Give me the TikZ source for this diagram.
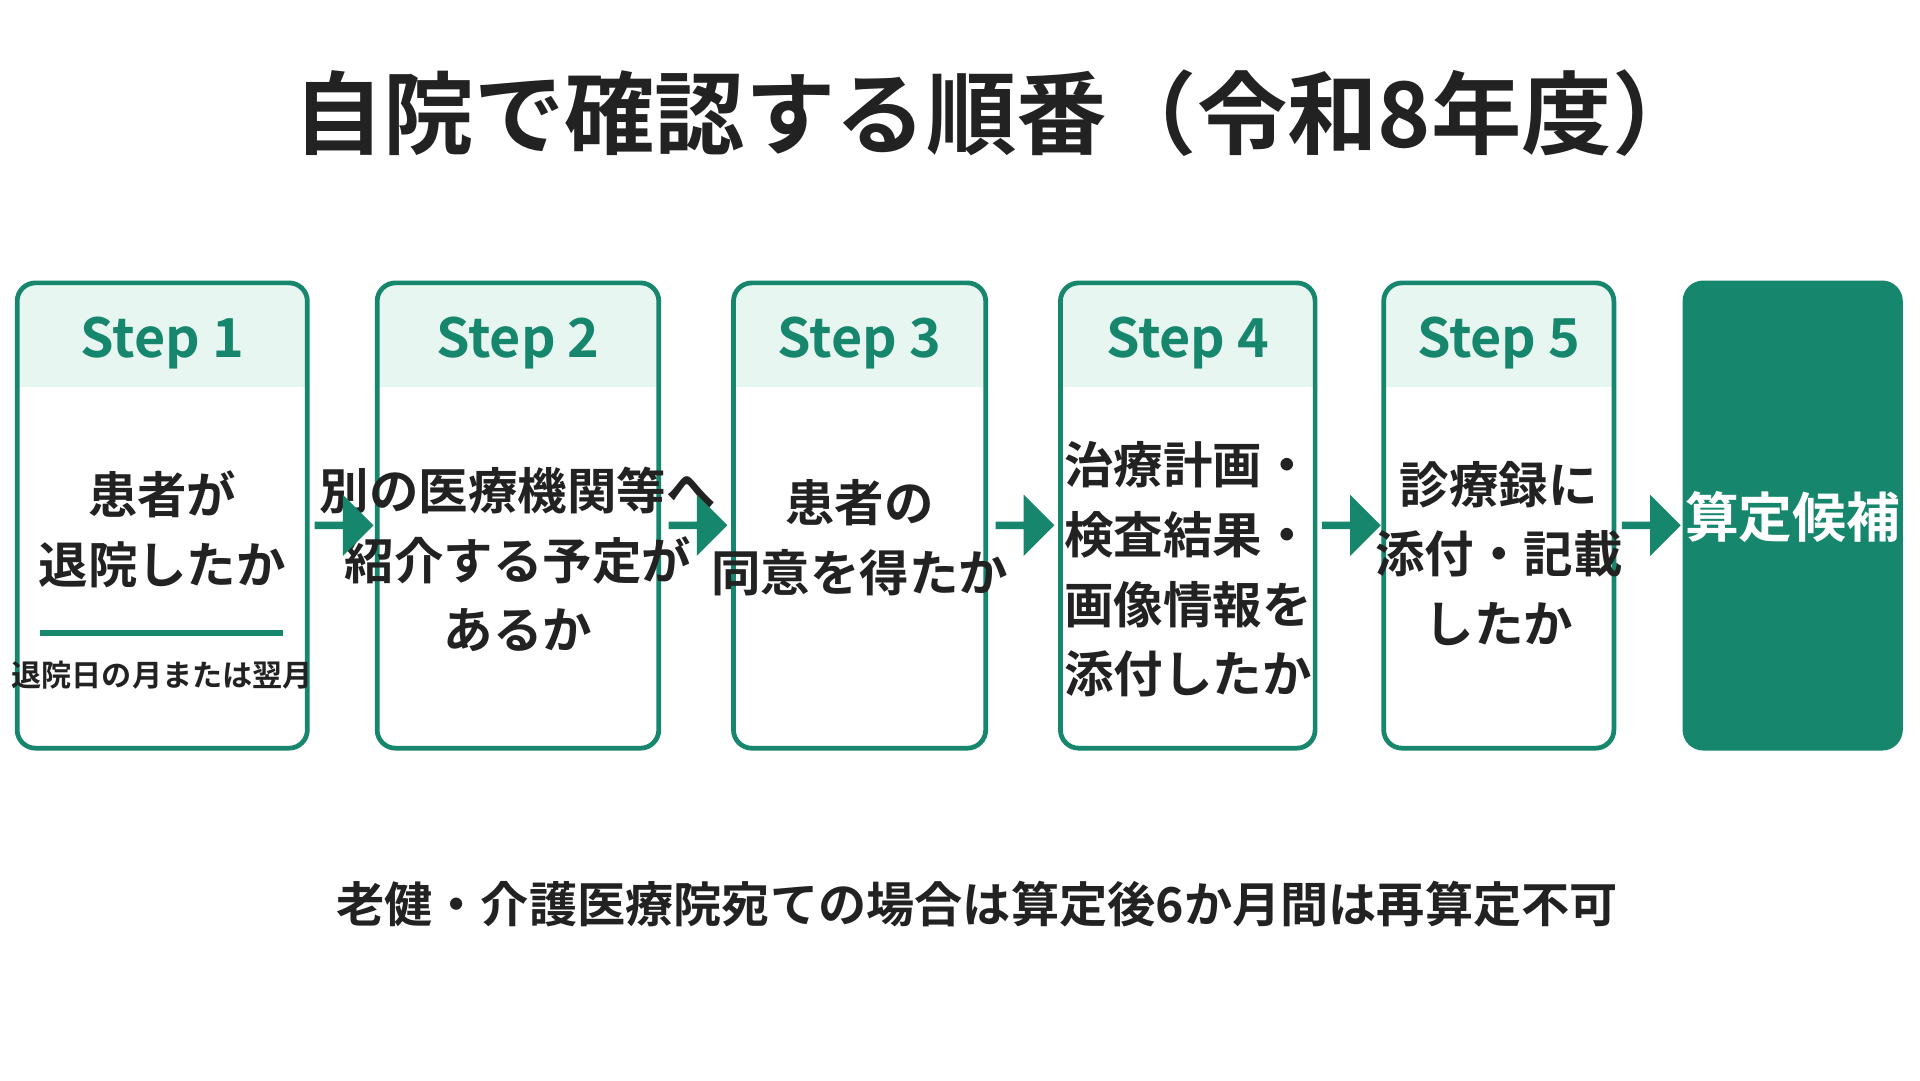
\documentclass[tikz,border=0pt]{standalone}
\usepackage{fontspec}
\setmainfont{Noto Sans CJK JP}[BoldFont={* Bold}]
\usetikzlibrary{positioning,calc,shapes.arrows}
\definecolor{teal1}{RGB}{22,134,108}
\definecolor{mint}{RGB}{232,246,241}
\definecolor{ink}{RGB}{34,34,34}

\tikzset{
  box/.style={draw=teal1, line width=1.1pt, rounded corners=0.15cm, minimum height=3.8cm, inner sep=0pt},
  steplbl/.style={text=teal1, font=\bfseries\fontsize{12.5}{14}\selectfont},
  body/.style={text=ink, align=center, font=\bfseries\fontsize{11.5}{16.2}\selectfont},
  arr/.style={single arrow, fill=teal1, minimum height=0.48cm, minimum width=0.5cm, single arrow head extend=0.05cm, inner sep=0pt}
}

\begin{document}
\begin{tikzpicture}
  \useasboundingbox (0,0) rectangle (15.68,-8.82);
  \fill[white] (0,0) rectangle (15.68,-8.82);

  % title
  \node[text=ink, font=\bfseries\fontsize{21}{24}\selectfont] (title) at (8.15,-0.92) {自院で確認する順番（令和8年度）};

  % step boxes
  \foreach \n/\cx/\w in {1/1.325/2.37, 2/4.23/2.30, 3/7.02/2.06, 4/9.70/2.08, 5/12.24/1.88} {
    \fill[mint, rounded corners=0.15cm] ({\cx-\w/2},-3.16) -- ({\cx-\w/2},-2.31) -- ({\cx+\w/2},-2.31) [sharp corners] -- ({\cx+\w/2},-3.16) -- cycle;
    \node[box, minimum width=\w cm] (s\n) at (\cx,-4.21) {};
    \node[steplbl] (h\n) at (\cx,-2.80) {Step \n};
  }
  \node[box, fill=teal1, minimum width=1.76cm] (fin) at (14.64,-4.21) {};

  % contents
  \node[body] (t1) at (1.325,-4.32) {患者が\\退院したか};
  \draw[teal1, line width=1.3pt] (0.33,-5.17) -- (2.31,-5.17);
  \node[text=ink, font=\bfseries\fontsize{7}{9}\selectfont] (n1) at (1.325,-5.51) {退院日の月または翌月};
  \node[body] (t2) at (4.23,-4.57) {別の医療機関等へ\\紹介する予定が\\あるか};
  \node[body] (t3) at (7.02,-4.39) {患者の\\同意を得たか};
  \node[body] (t4) at (9.70,-4.65) {治療計画・\\検査結果・\\画像情報を\\添付したか};
  \node[body] (t5) at (12.24,-4.52) {診療録に\\添付・記載\\したか};
  \node[body, text=white, font=\bfseries\fontsize{12.5}{16}\selectfont] (t6) at (14.64,-4.22) {算定候補};

  % arrows
  \foreach \a/\b in {s1/s2, s2/s3, s3/s4, s4/s5, s5/fin}
    \node[arr] at ($(\a.east)!0.5!(\b.west)+(0,-0.08)$) {};

  % note
  \node[text=ink, font=\bfseries\fontsize{11.2}{13}\selectfont] (note) at (7.98,-7.38) {老健・介護医療院宛ての場合は算定後6か月間は再算定不可};
\end{tikzpicture}
\end{document}
